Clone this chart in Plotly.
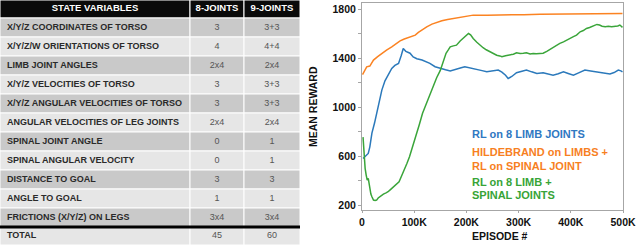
import plotly.graph_objects as go

# ---------------- table data ----------------
table_header = ["STATE VARIABLES", "8-JOINTS", "9-JOINTS"]
state_variables = [
    "X/Y/Z COORDINATES OF TORSO",
    "X/Y/Z/W ORIENTATIONS OF TORSO",
    "LIMB JOINT ANGLES",
    "X/Y/Z VELOCITIES OF TORSO",
    "X/Y/Z ANGULAR VELOCITIES OF TORSO",
    "ANGULAR VELOCITIES OF LEG JOINTS",
    "SPINAL JOINT ANGLE",
    "SPINAL ANGULAR VELOCITY",
    "DISTANCE TO GOAL",
    "ANGLE TO GOAL",
    "FRICTIONS (X/Y/Z) ON LEGS",
    "TOTAL",
]
joints8 = ["3", "4", "2x4", "3", "3", "2x4", "0", "0", "3", "1", "3x4", "45"]
joints9 = ["3+3", "4+4", "2x4", "3+3", "3+3", "2x4", "1", "1", "3", "1", "3x4", "60"]

# ---------------- chart data ----------------
blue_x = [2, 6, 12, 15, 19, 24, 28, 33, 38, 44, 50, 57, 63, 70, 75, 79, 84, 92, 98, 105,
          115, 122, 130, 140, 149, 160, 169, 180, 190, 197, 205, 213, 222, 230, 239, 250,
          261, 268, 275, 280, 287, 296, 305, 315, 325, 335, 347, 356, 366, 376, 386, 395,
          405, 415, 427, 438, 450, 462, 475, 483, 491, 496, 499]
blue_y = [580, 600, 622, 676, 788, 870, 949, 1050, 1139, 1215, 1262, 1316, 1340, 1357, 1420,
          1478, 1455, 1440, 1410, 1395, 1384, 1372, 1357, 1330, 1316, 1305, 1296, 1312, 1322,
          1329, 1320, 1316, 1305, 1298, 1288, 1295, 1302, 1285, 1260, 1234, 1250, 1281, 1292,
          1302, 1288, 1275, 1280, 1270, 1261, 1272, 1288, 1275, 1261, 1280, 1302, 1295, 1288,
          1280, 1270, 1282, 1302, 1296, 1288]

orange_x = [1, 4, 9, 15, 22, 30, 38, 47, 57, 65, 73, 81, 89, 96, 102, 108, 114, 124, 134,
            143, 153, 164, 175, 190, 213, 240, 277, 310, 341, 370, 400, 430, 460, 485, 499]
orange_y = [1265, 1288, 1329, 1335, 1384, 1412, 1438, 1466, 1492, 1518, 1541, 1556, 1569,
            1580, 1588, 1610, 1629, 1655, 1678, 1692, 1705, 1715, 1724, 1738, 1751, 1750,
            1751, 1755, 1759, 1759, 1762, 1765, 1764, 1765, 1765]

green_x = [2, 3, 4, 6, 8, 10, 12, 14, 17, 19, 22, 25, 28, 31, 34, 38, 41, 46, 50, 55, 60,
           66, 71, 76, 81, 86, 91, 95, 100, 105, 110, 116, 124, 133, 143, 150, 156, 161,
           165, 169, 175, 181, 188, 194, 199, 204, 208, 213, 220, 226, 232, 238, 245, 252,
           258, 264, 268, 275, 284, 290, 296, 303, 309, 315, 322, 328, 334, 341, 347, 354,
           360, 366, 372, 379, 386, 392, 398, 405, 411, 418, 424, 430, 436, 443, 450, 455,
           460, 466, 472, 478, 485, 490, 494, 497, 499]
green_y = [755, 690, 594, 500, 445, 404, 418, 350, 290, 268, 241, 238, 241, 258, 268, 275,
           290, 300, 309, 328, 350, 370, 390, 440, 486, 540, 594, 650, 703, 790, 860, 950,
           1040, 1130, 1240, 1300, 1370, 1440, 1465, 1492, 1500, 1506, 1540, 1561, 1585,
           1601, 1590, 1560, 1530, 1506, 1485, 1468, 1451, 1432, 1424, 1418, 1411, 1420,
           1425, 1432, 1443, 1438, 1440, 1443, 1433, 1438, 1436, 1438, 1440, 1455, 1471,
           1490, 1505, 1520, 1533, 1548, 1561, 1575, 1588, 1615, 1625, 1642, 1650, 1660,
           1675, 1670, 1660, 1656, 1660, 1656, 1656, 1662, 1670, 1660, 1651]

x_tick_vals = [0, 100, 200, 300, 400, 500]
x_tick_text = ["0", "100K", "200K", "300K", "400K", "500K"]
y_tick_vals = [200, 400, 600, 800, 1000, 1200, 1400, 1600, 1800]
y_tick_text = ["200", "", "600", "", "1000", "", "1400", "", "1800"]

series_names = ["RL on 8 LIMB JOINTS", "HILDEBRAND on LIMBS + RL on SPINAL JOINT",
                "RL on 8 LIMB + SPINAL JOINTS"]
legend_lines = [("RL on 8 LIMB JOINTS", 0), ("HILDEBRAND on LIMBS +", 1),
                ("RL on SPINAL JOINT", 1), ("RL on 8 LIMB +", 2), ("SPINAL JOINTS", 2)]

BLUE, ORANGE, GREEN = "#2b79bb", "#fb8322", "#3aa53a"
TEXT_COLORS = ["#2f78c2", "#f7801f", "#37a437"]

W, H = 640, 245
FONT = "Liberation Sans"

fig = go.Figure()

# ---------------- table (drawn on its own hidden axes, pixel-like units) ----------------
TBL_W = 300
col_edges = [0, 190, 244, TBL_W]
header_h, row_h = 18, 19
n_rows = len(state_variables)
row_edges = [0, header_h] + [header_h + row_h * (i + 1) for i in range(n_rows - 1)] + [H]
dark, light = "#c9c9c9", "#e6e6e6"

shapes = []
# header cells
for c in range(3):
    shapes.append(dict(type="rect", xref="x2", yref="y2",
                       x0=col_edges[c], x1=col_edges[c + 1], y0=row_edges[0], y1=row_edges[1],
                       fillcolor="#0a0a0a", line=dict(color="white", width=1), layer="below"))
# body cells
for r in range(n_rows):
    fill = dark if r % 2 == 0 else light
    for c in range(3):
        shapes.append(dict(type="rect", xref="x2", yref="y2",
                           x0=col_edges[c], x1=col_edges[c + 1],
                           y0=row_edges[r + 1], y1=row_edges[r + 2],
                           fillcolor=fill, line=dict(color="white", width=1), layer="below"))
# thick rule above TOTAL row
shapes.append(dict(type="line", xref="x2", yref="y2", x0=0, x1=TBL_W,
                   y0=row_edges[n_rows], y1=row_edges[n_rows],
                   line=dict(color="black", width=3)))

row_mid = [(row_edges[i] + row_edges[i + 1]) / 2 for i in range(len(row_edges) - 1)]
col_mid = [(col_edges[i] + col_edges[i + 1]) / 2 for i in range(3)]

# header text
fig.add_trace(go.Scatter(
    x=col_mid, y=[row_mid[0]] * 3, xaxis="x2", yaxis="y2", mode="text",
    text=["<b>%s</b>" % h for h in table_header], textposition="middle center",
    textfont=dict(family=FONT, size=9.5, color="white"), hoverinfo="skip",
    showlegend=False))
# first column text
fig.add_trace(go.Scatter(
    x=[7] * n_rows, y=row_mid[1:], xaxis="x2", yaxis="y2", mode="text",
    text=["<b>%s</b>" % s for s in state_variables], textposition="middle right",
    textfont=dict(family=FONT, size=9, color="#2a2a2a"), hoverinfo="skip",
    showlegend=False))
# number columns
for c, vals in [(1, joints8), (2, joints9)]:
    fig.add_trace(go.Scatter(
        x=[col_mid[c]] * n_rows, y=row_mid[1:], xaxis="x2", yaxis="y2", mode="text",
        text=vals, textposition="middle center",
        textfont=dict(family=FONT, size=9, color="#555555"), hoverinfo="skip",
        showlegend=False))

# ---------------- lines ----------------
for xs, ys, col, name in [(blue_x, blue_y, BLUE, series_names[0]),
                          (orange_x, orange_y, ORANGE, series_names[1]),
                          (green_x, green_y, GREEN, series_names[2])]:
    fig.add_trace(go.Scatter(x=[v * 1000 for v in xs], y=ys, mode="lines", name=name,
                             line=dict(color=col, width=1.5), showlegend=False))

x0, x1 = 362, 623
y_top, y_bot = 3, 210
axis_col = "#a6a6a6"
tickfont = dict(family=FONT, size=10.5, color="#111111", weight="bold")

fig.update_layout(
    width=W, height=H,
    margin=dict(l=0, r=0, t=0, b=0),
    paper_bgcolor="white", plot_bgcolor="rgba(0,0,0,0)",
    xaxis=dict(domain=[x0 / W, x1 / W], range=[0, 500000],
               tickvals=[v * 1000 for v in x_tick_vals], ticktext=x_tick_text,
               showgrid=False, zeroline=False, showline=True, linecolor=axis_col,
               linewidth=1, mirror=True, ticks="outside", ticklen=2, tickcolor=axis_col,
               tickfont=tickfont, automargin=False),
    yaxis=dict(domain=[(H - y_bot) / H, (H - y_top) / H], range=[160, 1850],
               tickvals=y_tick_vals, ticktext=y_tick_text,
               showgrid=False, zeroline=False, showline=True, linecolor=axis_col,
               linewidth=1, mirror=True, ticks="outside", ticklen=3, tickcolor=axis_col,
               tickfont=tickfont, automargin=False),
    xaxis2=dict(domain=[0, TBL_W / W], range=[0, TBL_W], visible=False, fixedrange=True,
                anchor="y2"),
    yaxis2=dict(domain=[0, 1], range=[H, 0], visible=False, fixedrange=True, anchor="x2"),
    showlegend=False,
    shapes=shapes,
)

annotations = [
    dict(text="<b>MEAN REWARD</b>", x=313 / W, y=(H - 107) / H, xref="paper", yref="paper",
         textangle=-90, showarrow=False, font=dict(family=FONT, size=10.5, color="#111111"),
         xanchor="center", yanchor="middle"),
    dict(text="<b>EPISODE #</b>", x=500 / W, y=(H - 236) / H, xref="paper", yref="paper",
         showarrow=False, font=dict(family=FONT, size=10.5, color="#111111"),
         xanchor="center", yanchor="middle"),
]
line_y = [134, 152, 166, 182, 195]
for (txt, ci), yy in zip(legend_lines, line_y):
    annotations.append(dict(text="<b>%s</b>" % txt, x=470 / W, y=(H - yy) / H,
                            xref="paper", yref="paper", showarrow=False,
                            xanchor="left", yanchor="middle",
                            font=dict(family=FONT, size=11, color=TEXT_COLORS[ci])))
fig.update_layout(annotations=annotations)

fig.write_html("out.html", config={"displayModeBar": False},
               post_script="document.body.style.margin='0';document.body.style.padding='0';"
                           "document.body.style.overflow='hidden';")
